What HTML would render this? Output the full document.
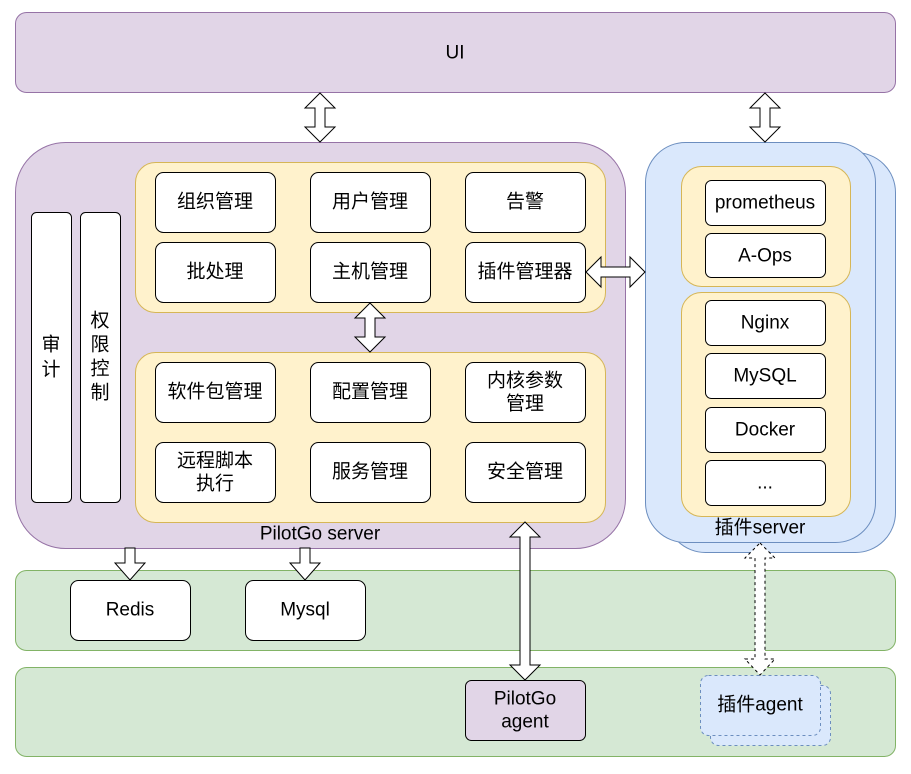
<!DOCTYPE html>
<html><head><meta charset="utf-8"><style>body{margin:0;background:#fff}text{font-family:"Liberation Sans","Noto Sans CJK SC",sans-serif;font-size:19px;text-anchor:middle;dominant-baseline:central;fill:#000}</style></head><body>
<svg width="911" height="769" xmlns="http://www.w3.org/2000/svg">
<rect x="15.5" y="12.5" width="880" height="80" rx="11" fill="#e1d5e7" stroke="#9673a6"/>
<text x="455" y="53">UI</text>
<rect x="15.5" y="570.5" width="880" height="80" rx="11" fill="#d5e8d4" stroke="#82b366"/>
<rect x="15.5" y="667.5" width="880" height="89" rx="11" fill="#d5e8d4" stroke="#82b366"/>
<rect x="15.5" y="142.5" width="610" height="406" rx="50" fill="#e1d5e7" stroke="#9673a6"/>
<text x="320" y="534">PilotGo server</text>
<rect x="135.5" y="162.5" width="470" height="150" rx="20" fill="#fff2cc" stroke="#d6b656"/>
<rect x="135.5" y="352.5" width="470" height="170" rx="20" fill="#fff2cc" stroke="#d6b656"/>
<g fill="#fff" stroke="#000">
<rect x="155.5" y="172.5" width="120" height="60" rx="8"/><rect x="310.5" y="172.5" width="120" height="60" rx="8"/><rect x="465.5" y="172.5" width="120" height="60" rx="8"/>
<rect x="155.5" y="242.5" width="120" height="60" rx="8"/><rect x="310.5" y="242.5" width="120" height="60" rx="8"/><rect x="465.5" y="242.5" width="120" height="60" rx="8"/>
<rect x="155.5" y="362.5" width="120" height="60" rx="8"/><rect x="310.5" y="362.5" width="120" height="60" rx="8"/><rect x="465.5" y="362.5" width="120" height="60" rx="8"/>
<rect x="155.5" y="442.5" width="120" height="60" rx="8"/><rect x="310.5" y="442.5" width="120" height="60" rx="8"/><rect x="465.5" y="442.5" width="120" height="60" rx="8"/>
<rect x="31.5" y="212.5" width="40" height="290" rx="5"/><rect x="80.5" y="212.5" width="40" height="290" rx="5"/>
<rect x="70.5" y="580.5" width="120" height="60" rx="8"/><rect x="245.5" y="580.5" width="120" height="60" rx="8"/>
</g>
<text x="215" y="202">组织管理</text><text x="370" y="202">用户管理</text><text x="525" y="202">告警</text>
<text x="215" y="272">批处理</text><text x="370" y="272">主机管理</text><text x="525" y="272">插件管理器</text>
<text x="215" y="392">软件包管理</text><text x="370" y="392">配置管理</text><text x="525" y="381">内核参数</text><text x="525" y="404">管理</text>
<text x="215" y="461">远程脚本</text><text x="215" y="484">执行</text><text x="370" y="472">服务管理</text><text x="525" y="472">安全管理</text>
<text x="51" y="345">审</text><text x="51" y="370">计</text>
<text x="100" y="321">权</text><text x="100" y="345">限</text><text x="100" y="369">控</text><text x="100" y="393">制</text>
<text x="130" y="610">Redis</text><text x="305" y="610">Mysql</text>
<rect x="665.5" y="152.5" width="230" height="400" rx="40" fill="#dae8fc" stroke="#6c8ebf"/>
<rect x="645.5" y="142.5" width="230" height="400" rx="40" fill="#dae8fc" stroke="#6c8ebf"/>
<rect x="681.5" y="166.5" width="169" height="120" rx="20" fill="#fff2cc" stroke="#d6b656"/>
<rect x="681.5" y="292.5" width="169" height="224" rx="20" fill="#fff2cc" stroke="#d6b656"/>
<g fill="#fff" stroke="#000">
<rect x="705.5" y="180.5" width="120" height="45" rx="6"/><rect x="705.5" y="233.5" width="120" height="44" rx="6"/>
<rect x="705.5" y="300.5" width="120" height="45" rx="6"/><rect x="705.5" y="353.5" width="120" height="45" rx="6"/>
<rect x="705.5" y="407.5" width="120" height="45" rx="6"/><rect x="705.5" y="460.5" width="120" height="45" rx="6"/>
</g>
<text x="765" y="203">prometheus</text><text x="765" y="256">A-Ops</text><text x="765" y="323">Nginx</text><text x="765" y="376">MySQL</text><text x="765" y="430">Docker</text><text x="765" y="483">...</text>
<text x="760" y="528">插件server</text>
<rect x="465.5" y="680.5" width="120" height="60" rx="6" fill="#e1d5e7" stroke="#000"/>
<text x="525" y="699">PilotGo</text><text x="525" y="722">agent</text>
<rect x="710.5" y="685.5" width="120" height="60" rx="8" fill="#dae8fc" stroke="#6c8ebf" stroke-dasharray="3 3"/>
<rect x="700.5" y="675.5" width="120" height="60" rx="8" fill="#dae8fc" stroke="#6c8ebf" stroke-dasharray="3 3"/>
<text x="760" y="705">插件agent</text>
<g fill="#fff" stroke="#000">
<polygon points="320,93 335,108 325,108 325,127 335,127 320,142 305,127 315,127 315,108 305,108"/>
<polygon points="765,93 780,108 770,108 770,127 780,127 765,142 750,127 760,127 760,108 750,108"/>
<polygon points="370,303 385,318 375,318 375,337 385,337 370,352 355,337 365,337 365,318 355,318"/>
<polygon points="586,272 601,257 601,267 630,267 630,257 645,272 630,287 630,277 601,277 601,287"/>
<polygon points="525,522 540,537 530,537 530,665 540,665 525,680 510,665 520,665 520,537 510,537"/>
<polygon points="125,548 135,548 135,563 145,563 130,580 115,563 125,563"/>
<polygon points="300,548 310,548 310,563 320,563 305,580 290,563 300,563"/>
</g>
<polygon points="760,543 775,558 765,558 765,659 775,659 760,675 745,659 755,659 755,558 745,558" fill="#fff" stroke="#000" stroke-dasharray="3 3"/>
</svg>
</body></html>
